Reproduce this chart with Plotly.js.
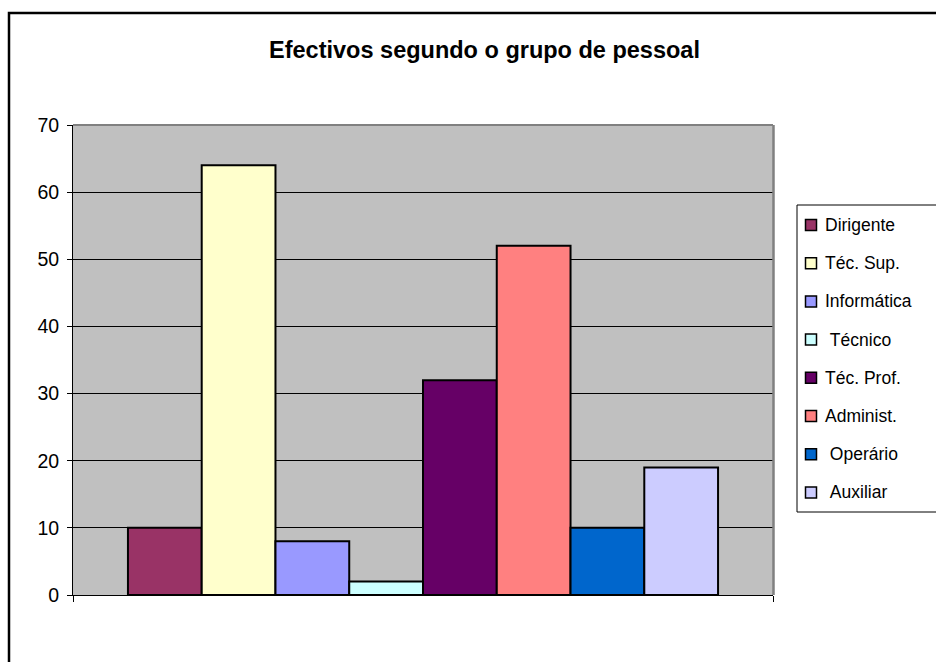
<!DOCTYPE html>
<html>
<head>
<meta charset="utf-8">
<script src="https://cdn.plot.ly/plotly-3.0.1.min.js"></script>
<style>html,body{margin:0;padding:0;background:#fff;}#chart{width:936px;height:662px;}</style>
</head>
<body>
<div id="chart"></div>
<script>
// Data
const categories = ["Dirigente", "Téc. Sup.", "Informática", "Técnico", "Téc. Prof.", "Administ.", "Operário", "Auxiliar"];
const legendLabels = ["Dirigente", "Téc. Sup.", "Informática", "\u00A0Técnico", "Téc. Prof.", "Administ.", "\u00A0Operário", "\u00A0Auxiliar"];
const values = [10, 64, 8, 2, 32, 52, 10, 19];
const colors = ["#993366", "#FFFFCC", "#9999FF", "#CCFFFF", "#660066", "#FF8080", "#0066CC", "#CCCCFF"];
const yTicks = [0, 10, 20, 30, 40, 50, 60, 70];

// Layout geometry (pixels)
const W = 936, H = 662;
const L = 73, R = 773, T = 125, B = 595;
const px = x => (x - L) / (R - L);
const py = y => (B - y) / (B - T);

const FONT = "Liberation Sans, Arial, sans-serif";

const traces = categories.map((c, i) => ({
  type: "bar",
  name: c,
  x: [0],
  y: [values[i]],
  marker: {color: colors[i], line: {color: "#000", width: 2}},
  hoverinfo: "skip",
  showlegend: false
}));

const shapes = [];
const annotations = [];

// Outer figure border
shapes.push({type: "rect", xref: "paper", yref: "paper",
  x0: px(9), x1: px(945), y0: py(13), y1: py(672),
  line: {color: "#000", width: 2.5}, fillcolor: "rgba(0,0,0,0)", layer: "above"});

// Plot area top and right border (gray)
shapes.push({type: "line", xref: "paper", yref: "paper", x0: 0, x1: 1, y0: 1, y1: 1,
  line: {color: "#808080", width: 2}, layer: "above"});
shapes.push({type: "line", xref: "paper", yref: "paper", x0: px(773.5), x1: px(773.5), y0: 0, y1: 1,
  line: {color: "#808080", width: 2.5}, layer: "above"});

// Legend box
shapes.push({type: "rect", xref: "paper", yref: "paper",
  x0: px(797), x1: px(945), y0: py(205), y1: py(512),
  line: {color: "#000", width: 1}, fillcolor: "#fff", layer: "above"});

const legTop = 225, legStep = 38.2;
categories.forEach((c, i) => {
  const cy = legTop + i * legStep;
  shapes.push({type: "rect", xref: "paper", yref: "paper",
    x0: px(805.5), x1: px(816.5), y0: py(cy - 5.5), y1: py(cy + 5.5),
    line: {color: "#000", width: 1.5}, fillcolor: colors[i], layer: "above"});
  annotations.push({xref: "paper", yref: "paper", x: px(823), y: py(cy),
    xanchor: "left", yanchor: "middle", showarrow: false, text: legendLabels[i],
    font: {family: FONT, size: 17.5, color: "#000"}});
});

const layout = {
  width: W, height: H,
  margin: {l: L, r: W - R, t: T, b: H - B, pad: 0},
  paper_bgcolor: "#fff",
  plot_bgcolor: "#C0C0C0",
  barmode: "group",
  bargap: 0.157,
  bargroupgap: 0,
  showlegend: false,
  title: {text: "<b>Efectivos segundo o grupo de pessoal</b>",
    font: {family: FONT, size: 23.5, color: "#000"},
    xref: "paper", x: px(484.5), xanchor: "center",
    yref: "container", y: 1 - 50 / H, yanchor: "middle"},
  xaxis: {range: [-0.5, 0.5], tickvals: [-0.5, 0.5], ticktext: ["", ""],
    ticks: "outside", ticklen: 6, tickcolor: "#000", tickwidth: 1,
    showgrid: false, zeroline: false, showline: true, linecolor: "#000", linewidth: 1,
    fixedrange: true},
  yaxis: {range: [0, 70], tickvals: yTicks, ticktext: yTicks.map(String),
    ticks: "outside", ticklen: 5, tickcolor: "#000", tickwidth: 1,
    ticklabelstandoff: 4,
    showgrid: true, gridcolor: "#000", gridwidth: 1,
    zeroline: false, showline: true, linecolor: "#000", linewidth: 1,
    tickfont: {family: FONT, size: 19.5, color: "#000"},
    fixedrange: true},
  shapes: shapes,
  annotations: annotations
};

Plotly.newPlot("chart", traces, layout, {displayModeBar: false, staticPlot: true});
</script>
</body>
</html>
